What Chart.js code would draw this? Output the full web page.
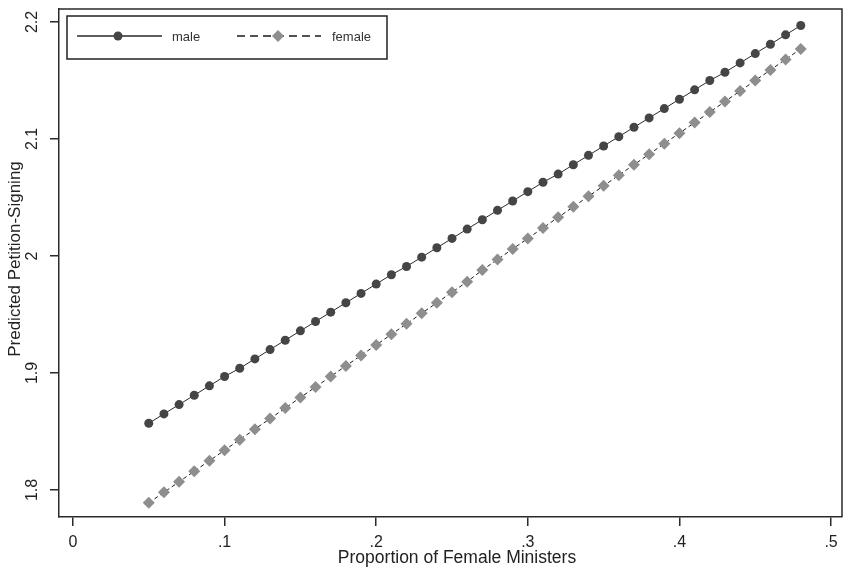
<!DOCTYPE html>
<html>
<head>
<meta charset="utf-8">
<title>Predicted Petition-Signing</title>
<script src="https://cdn.jsdelivr.net/npm/chart.js@4"></script>
<style>
  html, body { margin: 0; padding: 0; background: #fff; }
  canvas { display: block; }
</style>
</head>
<body>
<canvas id="chart" width="848" height="571"></canvas>
<script>
// proportion of female ministers (x) for each predicted point
const proportion = [0.05, 0.06, 0.07, 0.08, 0.09, 0.10, 0.11, 0.12, 0.13, 0.14,
  0.15, 0.16, 0.17, 0.18, 0.19, 0.20, 0.21, 0.22, 0.23, 0.24,
  0.25, 0.26, 0.27, 0.28, 0.29, 0.30, 0.31, 0.32, 0.33, 0.34,
  0.35, 0.36, 0.37, 0.38, 0.39, 0.40, 0.41, 0.42, 0.43, 0.44,
  0.45, 0.46, 0.47, 0.48];
const male = [1.857, 1.865, 1.873, 1.881, 1.889, 1.897, 1.904, 1.912, 1.920, 1.928,
  1.936, 1.944, 1.952, 1.960, 1.968, 1.976, 1.984, 1.991, 1.999, 2.007,
  2.015, 2.023, 2.031, 2.039, 2.047, 2.055, 2.063, 2.070, 2.078, 2.086,
  2.094, 2.102, 2.110, 2.118, 2.126, 2.134, 2.142, 2.150, 2.157, 2.165,
  2.173, 2.181, 2.189, 2.197];
const female = [1.789, 1.798, 1.807, 1.816, 1.825, 1.834, 1.843, 1.852, 1.861, 1.870,
  1.879, 1.888, 1.897, 1.906, 1.915, 1.924, 1.933, 1.942, 1.951, 1.960,
  1.969, 1.978, 1.988, 1.997, 2.006, 2.015, 2.024, 2.033, 2.042, 2.051,
  2.060, 2.069, 2.078, 2.087, 2.096, 2.105, 2.114, 2.123, 2.132, 2.141,
  2.150, 2.159, 2.168, 2.177];
const xTicks = [0, 0.1, 0.2, 0.3, 0.4, 0.5];
const yTicks = [1.8, 1.9, 2.0, 2.1, 2.2];

const FONT = "'Liberation Sans', Arial, sans-serif";
const AXIS = '#2a2a2a';

function stataLabel(v) {
  // Stata style: leading zero dropped, "2" not "2.0"
  let s = String(Math.round(v * 10) / 10);
  if (s.startsWith('0.')) s = s.slice(1);
  return s;
}

function pts(ys) {
  return proportion.map((x, i) => ({ x: x, y: ys[i] }));
}

// frame, rotated y labels, axis titles and the legend box
const decor = {
  id: 'decor',
  afterDraw(chart) {
    const ctx = chart.ctx;
    const a = chart.chartArea;
    const ys = chart.scales.y;
    ctx.save();

    ctx.strokeStyle = AXIS;
    ctx.lineWidth = 1.5;
    ctx.beginPath();
    ctx.moveTo(a.left, a.top);
    ctx.lineTo(a.right, a.top);
    ctx.lineTo(a.right, a.bottom);
    ctx.stroke();

    ctx.fillStyle = '#222';
    ctx.textAlign = 'center';
    ctx.textBaseline = 'middle';
    ctx.font = '16px ' + FONT;
    yTicks.forEach(v => {
      ctx.save();
      ctx.translate(33, ys.getPixelForValue(v));
      ctx.rotate(-Math.PI / 2);
      ctx.fillText(stataLabel(v), 0, 0);
      ctx.restore();
    });

    ctx.font = '17px ' + FONT;
    ctx.save();
    ctx.translate(15, 259);
    ctx.rotate(-Math.PI / 2);
    ctx.fillText('Predicted Petition-Signing', 0, 0);
    ctx.restore();

    ctx.font = '17.5px ' + FONT;
    ctx.fillText('Proportion of Female Ministers', 457, 558);

    // legend
    ctx.fillStyle = '#fff';
    ctx.fillRect(67, 16, 320, 43);
    ctx.strokeStyle = '#222';
    ctx.lineWidth = 1.5;
    ctx.strokeRect(67, 16, 320, 43);

    const ly = 36;
    const dsM = chart.data.datasets[0];
    const dsF = chart.data.datasets[1];
    ctx.lineWidth = 1.3;
    ctx.strokeStyle = dsM.borderColor;
    ctx.beginPath(); ctx.moveTo(77, ly); ctx.lineTo(162, ly); ctx.stroke();
    ctx.fillStyle = dsM.pointBackgroundColor;
    ctx.beginPath(); ctx.arc(118, ly, 4.5, 0, Math.PI * 2); ctx.fill();

    ctx.strokeStyle = dsF.borderColor;
    ctx.setLineDash([8, 5]);
    ctx.beginPath(); ctx.moveTo(237, ly); ctx.lineTo(321, ly); ctx.stroke();
    ctx.setLineDash([]);
    ctx.fillStyle = dsF.pointBackgroundColor;
    ctx.beginPath();
    ctx.moveTo(278 - 6, ly); ctx.lineTo(278, ly - 6);
    ctx.lineTo(278 + 6, ly); ctx.lineTo(278, ly + 6);
    ctx.closePath(); ctx.fill();

    ctx.fillStyle = '#333';
    ctx.textAlign = 'left';
    ctx.font = '13px ' + FONT;
    ctx.fillText('male', 172, ly + 1);
    ctx.fillText('female', 332, ly + 1);

    ctx.restore();
  }
};

const ctx = document.getElementById('chart').getContext('2d');
new Chart(ctx, {
  type: 'line',
  data: {
    datasets: [
      {
        label: 'male',
        data: pts(male),
        borderColor: '#2a2a2a',
        borderWidth: 1,
        pointStyle: 'circle',
        pointRadius: 4.5,
        pointBackgroundColor: '#454545',
        pointBorderWidth: 0,
        tension: 0
      },
      {
        label: 'female',
        data: pts(female),
        borderColor: '#1a1a1a',
        borderWidth: 1,
        borderDash: [4, 3],
        pointStyle: 'rectRot',
        pointRadius: 6,
        pointBackgroundColor: '#8e8e8e',
        pointBorderWidth: 0,
        tension: 0
      }
    ]
  },
  options: {
    responsive: false,
    animation: false,
    layout: { padding: { top: 9, right: 3, left: 0, bottom: 0 } },
    plugins: {
      legend: { display: false },
      tooltip: { enabled: false }
    },
    scales: {
      x: {
        type: 'linear',
        min: -0.0092,
        max: 0.5072,
        afterBuildTicks: s => { s.ticks = xTicks.map(v => ({ value: v })); },
        afterFit: s => { s.height = 54; },
        grid: { drawOnChartArea: false, drawTicks: true, tickLength: 9, color: AXIS, lineWidth: 1.5 },
        border: { display: true, color: AXIS, width: 1.5 },
        ticks: {
          color: '#222',
          font: { family: FONT, size: 16 },
          padding: 7,
          maxRotation: 0,
          callback: v => stataLabel(v)
        }
      },
      y: {
        type: 'linear',
        min: 1.7769,
        max: 2.2111,
        afterBuildTicks: s => { s.ticks = yTicks.map(v => ({ value: v })); },
        afterFit: s => { s.width = 59; },
        grid: { drawOnChartArea: false, drawTicks: true, tickLength: 9, color: AXIS, lineWidth: 1.5 },
        border: { display: true, color: AXIS, width: 1.5 },
        ticks: { display: false }
      }
    }
  },
  plugins: [decor]
});
</script>
</body>
</html>
